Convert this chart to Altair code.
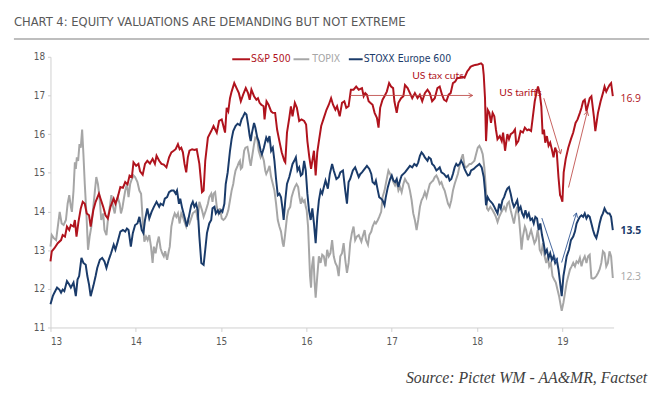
import altair as alt
import pandas as pd

# ---------------- data (decimal year, P/E) ----------------
SP500 = [
    (13.000, 12.71), (13.015, 12.97), (13.046, 13.05), (13.085, 13.18), (13.124, 13.26), (13.143, 13.39),
    (13.170, 13.35), (13.193, 13.61), (13.220, 13.52), (13.239, 13.65), (13.270, 13.61), (13.286, 13.78),
    (13.305, 13.35), (13.328, 13.73), (13.355, 14.08), (13.378, 14.25), (13.402, 14.20), (13.425, 13.95),
    (13.452, 13.90), (13.471, 13.61), (13.502, 14.03), (13.529, 14.25), (13.568, 14.46), (13.587, 14.33),
    (13.618, 14.12), (13.645, 13.90), (13.672, 13.82), (13.703, 14.12), (13.741, 14.33), (13.761, 14.20),
    (13.788, 14.37), (13.819, 14.63), (13.849, 14.61), (13.876, 14.76), (13.903, 14.70), (13.927, 14.93),
    (13.954, 14.89), (13.973, 15.27), (14.004, 15.18), (14.031, 15.23), (14.050, 15.04), (14.081, 14.95),
    (14.108, 15.23), (14.135, 15.31), (14.166, 15.24), (14.197, 15.36), (14.224, 15.23), (14.243, 15.44),
    (14.274, 15.31), (14.301, 15.23), (14.328, 15.21), (14.359, 15.14), (14.390, 15.40), (14.417, 15.53),
    (14.444, 15.57), (14.467, 15.61), (14.494, 15.74), (14.514, 15.61), (14.533, 15.65), (14.552, 15.53),
    (14.571, 15.23), (14.591, 15.01), (14.610, 15.40), (14.629, 15.57), (14.660, 15.61), (14.687, 15.59),
    (14.714, 15.61), (14.745, 15.23), (14.776, 14.50), (14.795, 14.54), (14.814, 15.31), (14.845, 15.91),
    (14.884, 16.08), (14.911, 16.21), (14.949, 16.04), (14.976, 16.34), (15.007, 16.38), (15.046, 16.04),
    (15.065, 16.68), (15.084, 16.59), (15.104, 16.93), (15.123, 17.10), (15.154, 17.32), (15.181, 17.19),
    (15.208, 17.06), (15.231, 16.85), (15.258, 17.02), (15.289, 17.19), (15.316, 17.06), (15.335, 16.89),
    (15.355, 17.15), (15.386, 16.98), (15.413, 16.89), (15.432, 16.93), (15.451, 16.81), (15.471, 16.76),
    (15.498, 16.72), (15.509, 16.38), (15.532, 16.85), (15.556, 16.76), (15.586, 16.59), (15.606, 16.55),
    (15.633, 16.55), (15.656, 16.12), (15.683, 15.82), (15.710, 15.53), (15.741, 15.31), (15.752, 15.27),
    (15.772, 16.04), (15.799, 16.42), (15.818, 16.72), (15.837, 16.46), (15.864, 16.81), (15.888, 16.68),
    (15.915, 16.34), (15.942, 16.38), (15.973, 16.34), (15.996, 16.25), (16.011, 15.82), (16.034, 15.40),
    (16.054, 15.10), (16.069, 15.31), (16.088, 15.57), (16.108, 14.93), (16.127, 15.53), (16.146, 15.82),
    (16.173, 16.21), (16.204, 16.42), (16.235, 16.63), (16.262, 16.76), (16.289, 16.93), (16.312, 16.76),
    (16.339, 16.63), (16.359, 16.72), (16.390, 16.46), (16.417, 16.81), (16.444, 16.85), (16.467, 16.68),
    (16.494, 16.72), (16.521, 17.15), (16.552, 17.15), (16.583, 17.23), (16.613, 17.15), (16.651, 17.19),
    (16.671, 16.98), (16.690, 17.06), (16.709, 17.02), (16.729, 16.85), (16.748, 16.81), (16.775, 16.76),
    (16.799, 16.55), (16.826, 16.42), (16.845, 16.17), (16.864, 16.68), (16.892, 16.89), (16.915, 16.98),
    (16.942, 17.10), (16.969, 17.32), (16.992, 17.23), (17.016, 17.19), (17.031, 16.85), (17.058, 16.55),
    (17.078, 16.81), (17.109, 16.93), (17.136, 16.98), (17.155, 17.27), (17.186, 17.19), (17.213, 17.06),
    (17.240, 16.93), (17.271, 17.06), (17.302, 16.93), (17.329, 17.02), (17.357, 16.85), (17.388, 17.06),
    (17.419, 17.15), (17.446, 17.06), (17.473, 16.85), (17.504, 16.93), (17.535, 17.19), (17.562, 17.23),
    (17.589, 17.02), (17.612, 16.89), (17.640, 16.85), (17.667, 17.02), (17.690, 17.06), (17.717, 17.32),
    (17.744, 17.36), (17.767, 17.45), (17.795, 17.46), (17.822, 17.49), (17.853, 17.46), (17.884, 17.62),
    (17.899, 17.66), (17.923, 17.74), (17.950, 17.77), (17.977, 17.79), (18.008, 17.80), (18.047, 17.83),
    (18.066, 17.79), (18.078, 17.53), (18.093, 16.93), (18.105, 15.82), (18.124, 16.63), (18.144, 16.55),
    (18.163, 16.29), (18.182, 16.55), (18.202, 16.46), (18.221, 16.12), (18.239, 15.87), (18.266, 15.95),
    (18.289, 15.82), (18.305, 16.04), (18.328, 15.57), (18.355, 16.00), (18.374, 15.87), (18.394, 16.00),
    (18.421, 16.04), (18.444, 16.12), (18.459, 15.74), (18.483, 15.82), (18.510, 16.08), (18.537, 16.04),
    (18.560, 16.17), (18.587, 16.10), (18.606, 16.12), (18.633, 16.08), (18.652, 16.42), (18.676, 16.85),
    (18.699, 17.10), (18.714, 17.23), (18.734, 17.06), (18.753, 16.72), (18.768, 16.00), (18.784, 16.12),
    (18.799, 15.78), (18.818, 15.95), (18.838, 15.70), (18.857, 15.78), (18.876, 15.61), (18.896, 15.40),
    (18.915, 15.65), (18.934, 15.53), (18.954, 14.89), (18.973, 14.42), (18.984, 14.37), (19.000, 14.25),
    (19.015, 15.01), (19.039, 15.36), (19.069, 15.65), (19.100, 15.87), (19.127, 16.04), (19.154, 16.29),
    (19.178, 16.38), (19.205, 16.55), (19.224, 16.68), (19.243, 16.85), (19.262, 16.89), (19.282, 16.59),
    (19.301, 16.76), (19.320, 16.93), (19.340, 16.98), (19.371, 16.42), (19.386, 16.08), (19.417, 16.55),
    (19.448, 16.85), (19.475, 17.06), (19.494, 17.23), (19.514, 17.10), (19.533, 17.19), (19.552, 17.27),
    (19.571, 17.32), (19.591, 16.98),
]

STOXX600 = [
    (13.000, 11.60), (13.027, 11.81), (13.046, 11.90), (13.077, 12.03), (13.104, 11.98), (13.124, 11.90),
    (13.143, 11.98), (13.162, 11.94), (13.193, 12.20), (13.220, 12.11), (13.239, 12.03), (13.270, 12.16),
    (13.297, 11.81), (13.317, 12.24), (13.336, 12.33), (13.363, 12.80), (13.386, 12.67), (13.413, 12.62),
    (13.432, 12.33), (13.452, 12.11), (13.471, 11.81), (13.502, 12.07), (13.529, 12.33), (13.548, 12.54),
    (13.579, 12.75), (13.606, 12.80), (13.633, 12.71), (13.656, 12.54), (13.683, 12.75), (13.710, 12.92),
    (13.741, 13.14), (13.761, 13.01), (13.788, 13.22), (13.819, 13.48), (13.849, 13.52), (13.876, 13.48),
    (13.896, 13.56), (13.915, 13.52), (13.942, 13.09), (13.965, 13.44), (13.992, 13.65), (14.019, 13.69),
    (14.042, 13.86), (14.069, 13.52), (14.089, 13.44), (14.108, 13.78), (14.135, 14.08), (14.158, 13.82),
    (14.185, 13.99), (14.212, 14.12), (14.243, 14.25), (14.274, 14.12), (14.290, 14.20), (14.320, 14.16),
    (14.340, 14.33), (14.367, 14.37), (14.390, 14.50), (14.417, 14.54), (14.444, 14.54), (14.467, 14.46),
    (14.483, 14.54), (14.506, 14.20), (14.521, 14.33), (14.544, 14.08), (14.571, 13.86), (14.598, 13.61),
    (14.622, 13.86), (14.649, 14.16), (14.668, 14.25), (14.687, 14.12), (14.707, 14.20), (14.726, 14.03),
    (14.745, 13.35), (14.768, 12.67), (14.795, 12.62), (14.814, 13.01), (14.834, 13.44), (14.861, 13.69),
    (14.884, 13.78), (14.899, 14.08), (14.922, 14.12), (14.938, 13.95), (14.961, 14.03), (14.976, 13.95),
    (15.000, 14.03), (15.015, 13.99), (15.038, 14.20), (15.054, 14.71), (15.077, 15.01), (15.104, 15.57),
    (15.123, 15.87), (15.142, 16.08), (15.169, 16.21), (15.193, 16.27), (15.220, 16.23), (15.239, 16.38),
    (15.258, 16.46), (15.278, 16.55), (15.297, 16.51), (15.316, 16.25), (15.335, 15.95), (15.347, 15.82),
    (15.362, 16.04), (15.386, 16.29), (15.401, 16.17), (15.424, 15.91), (15.440, 15.82), (15.463, 15.57),
    (15.478, 15.48), (15.501, 15.65), (15.529, 15.91), (15.548, 15.82), (15.567, 15.95), (15.586, 15.57),
    (15.606, 15.65), (15.625, 15.31), (15.644, 14.84), (15.664, 14.42), (15.683, 14.46), (15.702, 14.37),
    (15.722, 14.03), (15.733, 13.78), (15.752, 14.29), (15.772, 14.71), (15.799, 14.89), (15.818, 15.06),
    (15.837, 15.23), (15.857, 15.31), (15.876, 15.40), (15.895, 15.06), (15.915, 15.14), (15.934, 14.93),
    (15.953, 14.97), (15.973, 15.31), (15.992, 15.06), (16.011, 14.46), (16.030, 14.03), (16.050, 13.78),
    (16.069, 14.08), (16.088, 13.69), (16.108, 13.18), (16.127, 13.86), (16.146, 14.29), (16.166, 14.54),
    (16.185, 14.46), (16.204, 14.63), (16.224, 14.80), (16.251, 14.59), (16.274, 14.97), (16.301, 15.23),
    (16.320, 15.06), (16.351, 14.84), (16.378, 14.89), (16.397, 15.01), (16.428, 15.06), (16.455, 14.54),
    (16.475, 14.20), (16.494, 14.76), (16.513, 14.84), (16.544, 15.06), (16.571, 15.14), (16.613, 14.89),
    (16.632, 14.97), (16.651, 15.01), (16.682, 15.10), (16.709, 15.18), (16.737, 15.10), (16.760, 14.97),
    (16.775, 14.76), (16.799, 14.71), (16.814, 14.80), (16.837, 14.54), (16.853, 14.37), (16.876, 14.33),
    (16.892, 14.29), (16.915, 14.16), (16.930, 14.37), (16.954, 14.63), (16.981, 14.84), (17.000, 14.93),
    (17.019, 14.80), (17.039, 14.76), (17.058, 14.84), (17.078, 14.63), (17.097, 14.80), (17.116, 14.93),
    (17.155, 15.01), (17.186, 15.10), (17.213, 15.18), (17.240, 15.14), (17.264, 15.23), (17.291, 15.18),
    (17.310, 15.27), (17.330, 15.44), (17.349, 15.53), (17.368, 15.48), (17.388, 15.40), (17.419, 15.31),
    (17.434, 15.40), (17.457, 15.36), (17.473, 15.23), (17.496, 15.18), (17.523, 15.06), (17.543, 15.10),
    (17.562, 15.14), (17.582, 15.01), (17.612, 14.97), (17.640, 14.89), (17.659, 14.93), (17.678, 14.80),
    (17.698, 14.84), (17.717, 14.97), (17.737, 15.14), (17.756, 15.23), (17.775, 15.18), (17.795, 15.23),
    (17.814, 15.31), (17.833, 15.23), (17.853, 15.10), (17.872, 15.01), (17.892, 14.93), (17.911, 14.95),
    (17.930, 15.06), (17.961, 15.10), (17.988, 15.16), (18.027, 15.23), (18.054, 15.14), (18.078, 14.89),
    (18.093, 14.54), (18.105, 14.16), (18.124, 14.37), (18.144, 14.29), (18.163, 14.25), (18.182, 14.20),
    (18.202, 14.12), (18.221, 14.03), (18.240, 13.95), (18.259, 14.20), (18.278, 14.08), (18.297, 14.29),
    (18.317, 14.37), (18.336, 14.50), (18.355, 14.59), (18.374, 14.63), (18.394, 14.46), (18.413, 14.25),
    (18.432, 14.12), (18.452, 14.20), (18.471, 14.29), (18.490, 14.03), (18.510, 14.12), (18.529, 13.95),
    (18.548, 13.86), (18.567, 14.03), (18.587, 13.86), (18.606, 13.95), (18.625, 13.78), (18.645, 13.82),
    (18.664, 13.69), (18.683, 13.86), (18.703, 13.82), (18.722, 13.52), (18.741, 13.69), (18.761, 13.39),
    (18.780, 13.18), (18.799, 12.92), (18.818, 13.01), (18.838, 12.80), (18.857, 12.92), (18.876, 12.75),
    (18.896, 12.84), (18.915, 12.67), (18.934, 12.75), (18.954, 12.50), (18.973, 12.16), (18.992, 11.81),
    (19.012, 12.33), (19.031, 12.58), (19.050, 12.84), (19.077, 13.01), (19.100, 13.26), (19.127, 13.35),
    (19.147, 13.48), (19.166, 13.69), (19.185, 13.78), (19.205, 13.86), (19.224, 13.90), (19.243, 13.86),
    (19.262, 13.95), (19.282, 13.82), (19.301, 13.90), (19.320, 13.86), (19.340, 13.69), (19.359, 13.52),
    (19.378, 13.39), (19.398, 13.31), (19.417, 13.48), (19.436, 13.69), (19.456, 13.86), (19.475, 13.95),
    (19.494, 14.08), (19.514, 13.99), (19.533, 13.95), (19.552, 13.95), (19.571, 13.86), (19.591, 13.52),
]

TOPIX = [
    (13.000, 13.09), (13.015, 13.39), (13.039, 13.31), (13.066, 13.26), (13.093, 13.73), (13.108, 13.99),
    (13.131, 13.69), (13.154, 13.65), (13.181, 13.78), (13.201, 14.20), (13.220, 14.42), (13.239, 14.12),
    (13.251, 13.99), (13.270, 14.54), (13.286, 15.27), (13.297, 15.10), (13.309, 15.40), (13.324, 15.31),
    (13.340, 15.74), (13.355, 15.65), (13.371, 16.12), (13.386, 15.48), (13.402, 14.71), (13.421, 13.95),
    (13.440, 13.01), (13.459, 13.35), (13.479, 13.61), (13.502, 14.12), (13.521, 14.54), (13.537, 14.89),
    (13.556, 14.71), (13.575, 14.37), (13.595, 13.78), (13.618, 13.95), (13.633, 13.52), (13.656, 13.39),
    (13.676, 13.86), (13.695, 14.12), (13.714, 14.42), (13.734, 14.12), (13.753, 13.95), (13.772, 14.25),
    (13.788, 14.37), (13.811, 14.20), (13.826, 13.95), (13.842, 14.08), (13.857, 14.29), (13.876, 14.54),
    (13.896, 14.71), (13.915, 14.37), (13.934, 14.71), (13.954, 14.84), (13.973, 14.93), (13.992, 14.89),
    (14.019, 14.76), (14.042, 14.54), (14.062, 14.46), (14.081, 13.78), (14.100, 13.22), (14.120, 13.35),
    (14.139, 13.26), (14.158, 13.39), (14.178, 13.09), (14.197, 12.67), (14.212, 13.09), (14.232, 12.92),
    (14.251, 13.18), (14.270, 13.35), (14.290, 13.05), (14.309, 12.92), (14.328, 12.84), (14.344, 12.97),
    (14.367, 12.75), (14.386, 12.97), (14.398, 13.09), (14.417, 13.61), (14.436, 13.82), (14.456, 13.95),
    (14.475, 13.86), (14.494, 13.95), (14.514, 13.69), (14.533, 13.95), (14.552, 13.86), (14.571, 13.73),
    (14.591, 13.61), (14.610, 13.78), (14.629, 13.69), (14.649, 13.82), (14.668, 13.95), (14.687, 13.99),
    (14.707, 14.03), (14.726, 13.78), (14.745, 14.25), (14.776, 14.03), (14.795, 13.86), (14.822, 14.03),
    (14.845, 14.20), (14.861, 14.37), (14.884, 14.46), (14.899, 14.25), (14.911, 14.46), (14.930, 14.50),
    (14.949, 14.12), (14.969, 13.95), (14.988, 14.08), (15.007, 13.82), (15.027, 13.78), (15.046, 13.82),
    (15.065, 13.90), (15.084, 14.03), (15.104, 14.29), (15.123, 14.54), (15.142, 14.71), (15.154, 14.89),
    (15.169, 15.06), (15.193, 15.18), (15.208, 15.27), (15.220, 15.31), (15.231, 15.10), (15.247, 15.14),
    (15.270, 15.57), (15.285, 15.65), (15.308, 15.67), (15.324, 15.48), (15.335, 15.31), (15.347, 15.18),
    (15.362, 15.40), (15.386, 15.74), (15.401, 15.91), (15.424, 15.87), (15.440, 15.57), (15.463, 15.40),
    (15.478, 15.48), (15.501, 15.31), (15.517, 15.06), (15.529, 14.97), (15.548, 15.06), (15.567, 15.18),
    (15.586, 14.89), (15.606, 14.71), (15.625, 14.54), (15.644, 14.20), (15.664, 13.78), (15.683, 13.61),
    (15.702, 13.48), (15.722, 13.18), (15.733, 13.09), (15.749, 13.39), (15.772, 13.86), (15.787, 14.03),
    (15.810, 14.12), (15.826, 14.37), (15.849, 14.54), (15.864, 14.63), (15.884, 14.71), (15.903, 14.63),
    (15.918, 14.37), (15.934, 14.20), (15.949, 14.33), (15.965, 14.25), (15.980, 14.29), (15.992, 14.12),
    (16.003, 14.03), (16.019, 13.61), (16.030, 13.01), (16.042, 12.33), (16.054, 12.03), (16.065, 12.58),
    (16.081, 12.84), (16.096, 12.16), (16.108, 11.77), (16.127, 12.33), (16.146, 12.84), (16.166, 12.67),
    (16.185, 12.88), (16.204, 12.84), (16.224, 12.58), (16.243, 13.01), (16.262, 12.84), (16.281, 12.92),
    (16.301, 13.26), (16.320, 12.84), (16.339, 12.67), (16.359, 12.58), (16.378, 12.33), (16.397, 12.84),
    (16.417, 12.92), (16.436, 13.18), (16.455, 12.75), (16.475, 12.41), (16.494, 12.67), (16.513, 13.18),
    (16.532, 13.44), (16.552, 13.61), (16.571, 13.26), (16.590, 13.35), (16.613, 13.39), (16.644, 13.22),
    (16.659, 13.35), (16.682, 13.52), (16.698, 13.26), (16.721, 13.14), (16.737, 13.39), (16.760, 13.48),
    (16.775, 13.61), (16.799, 13.73), (16.814, 13.69), (16.837, 13.78), (16.853, 13.86), (16.876, 13.99),
    (16.892, 14.37), (16.915, 14.54), (16.930, 14.71), (16.946, 14.89), (16.961, 15.06), (16.981, 14.97),
    (17.000, 14.89), (17.019, 14.76), (17.039, 14.67), (17.058, 14.76), (17.078, 14.54), (17.097, 14.63),
    (17.116, 14.50), (17.136, 14.71), (17.155, 14.84), (17.175, 14.76), (17.194, 14.71), (17.213, 14.54),
    (17.233, 14.29), (17.252, 13.95), (17.271, 13.78), (17.291, 13.52), (17.310, 13.78), (17.330, 14.12),
    (17.349, 14.29), (17.368, 14.37), (17.388, 14.50), (17.407, 14.37), (17.426, 14.54), (17.446, 14.71),
    (17.465, 14.76), (17.485, 14.80), (17.504, 14.89), (17.523, 14.93), (17.543, 14.84), (17.562, 14.71),
    (17.582, 14.76), (17.601, 14.63), (17.620, 14.54), (17.640, 14.37), (17.659, 14.20), (17.678, 14.12),
    (17.698, 14.29), (17.717, 14.54), (17.737, 14.71), (17.756, 14.84), (17.775, 14.97), (17.795, 15.18),
    (17.814, 15.36), (17.833, 15.48), (17.853, 15.18), (17.872, 15.14), (17.892, 15.18), (17.911, 15.23),
    (17.930, 15.23), (17.950, 15.27), (17.969, 15.31), (17.988, 15.48), (18.008, 15.65), (18.027, 15.70),
    (18.047, 15.61), (18.066, 15.48), (18.085, 15.14), (18.105, 14.54), (18.116, 14.08), (18.132, 14.03),
    (18.155, 14.12), (18.182, 14.03), (18.202, 13.95), (18.221, 13.86), (18.240, 13.73), (18.259, 13.86),
    (18.278, 13.95), (18.297, 14.03), (18.317, 14.12), (18.336, 14.03), (18.355, 14.20), (18.374, 14.25),
    (18.394, 14.03), (18.413, 13.86), (18.432, 13.69), (18.452, 13.95), (18.471, 14.12), (18.490, 13.86),
    (18.510, 13.35), (18.521, 13.01), (18.537, 13.35), (18.560, 13.61), (18.575, 13.52), (18.595, 13.26),
    (18.614, 13.39), (18.633, 13.52), (18.652, 13.35), (18.672, 13.18), (18.691, 13.26), (18.710, 13.52),
    (18.722, 13.35), (18.734, 13.01), (18.753, 12.92), (18.772, 13.18), (18.791, 12.84), (18.811, 12.67),
    (18.830, 12.84), (18.845, 12.58), (18.865, 12.67), (18.884, 12.33), (18.903, 12.24), (18.923, 12.16),
    (18.942, 11.98), (18.961, 11.81), (18.981, 11.56), (18.992, 11.43), (19.012, 11.64), (19.031, 11.90),
    (19.050, 12.16), (19.069, 12.33), (19.089, 12.50), (19.108, 12.58), (19.127, 12.67), (19.147, 12.58),
    (19.166, 12.71), (19.185, 12.67), (19.205, 12.80), (19.224, 12.58), (19.243, 12.75), (19.262, 12.84),
    (19.282, 12.67), (19.301, 12.84), (19.320, 12.88), (19.340, 12.28), (19.359, 12.26), (19.378, 12.28),
    (19.398, 12.33), (19.417, 12.41), (19.436, 12.50), (19.456, 12.67), (19.475, 12.97), (19.494, 12.92),
    (19.514, 12.58), (19.533, 12.67), (19.552, 12.97), (19.571, 12.84), (19.591, 12.28),
]

SERIES_NAMES = ["S&P 500", "TOPIX", "STOXX Europe 600"]
SERIES_COLORS = ["#b0131d", "#a6a6a6", "#1a3b6a"]

END_LABELS = ["16.9", "12.3", "13.5"]
END_VALUES = [16.9, 12.3, 13.5]
END_COLORS = ["#b0131d", "#a6a6a6", "#1a3b6a"]
END_BOLD = [False, False, True]

X_TICKS = [13, 14, 15, 16, 17, 18, 19]
Y_TICKS = [11, 12, 13, 14, 15, 16, 17, 18]

TITLE = "CHART 4: EQUITY VALUATIONS ARE DEMANDING BUT NOT EXTREME"
SOURCE = "Source: Pictet WM - AA&MR, Factset"

ANNOT_TEXT = ["US tax cuts", "US tariffs"]
ANNOT_X = [17.24, 18.26]
ANNOT_Y = [17.51, 17.05]

ARROW_X1 = [16.51, 18.782, 19.072, 18.759, 18.991]
ARROW_Y1 = [17.00, 16.93, 14.62, 13.83, 12.68]
ARROW_X2 = [17.948, 18.979, 19.292, 18.933, 19.165]
ARROW_Y2 = [17.00, 15.49, 16.59, 12.68, 13.96]
ARROW_COLORS = ["#c0504d", "#c0504d", "#c0504d", "#2e5593", "#2e5593"]
ARROW_ANGLES = [90, 163, 14, 162, 17]

# ---------------- styling ----------------
NARROW = "DejaVu Sans Condensed, Liberation Sans Narrow, Roboto, sans-serif"
AX_COL = "#595959"
W, H = 570, 274

xscale = alt.Scale(domain=[13, 19.6], nice=False, zero=False)
yscale = alt.Scale(domain=[11, 18], nice=False, zero=False)
xaxis = alt.Axis(values=X_TICKS, format="d", title=None, grid=False, domainColor="#d0d0d0",
                 tickColor="#d0d0d0", tickSize=4, labelFont=NARROW, labelFontSize=10,
                 labelColor=AX_COL, labelPadding=5)
yaxis = alt.Axis(values=Y_TICKS, format="d", title=None, grid=False, domainColor="#d0d0d0",
                 tickColor="#d0d0d0", tickSize=3, labelFont=NARROW, labelFontSize=10,
                 labelColor=AX_COL, labelPadding=3)


def X(field):
    return alt.X(field, type="quantitative", scale=xscale, axis=xaxis)


def Y(field):
    return alt.Y(field, type="quantitative", scale=yscale, axis=yaxis)


def series_layer(pairs, color):
    df = pd.DataFrame(pairs, columns=["t", "v"])
    return alt.Chart(df).mark_line(color=color, strokeWidth=2, clip=False).encode(
        x=X("t"), y=Y("v"), order="t:Q")


lines = [series_layer(TOPIX, SERIES_COLORS[1]),
         series_layer(STOXX600, SERIES_COLORS[2]),
         series_layer(SP500, SERIES_COLORS[0])]

arrow_df = pd.DataFrame({"x1": ARROW_X1, "y1": ARROW_Y1, "x2": ARROW_X2, "y2": ARROW_Y2,
                         "col": ARROW_COLORS, "ang": ARROW_ANGLES})
arrows = alt.Chart(arrow_df).mark_rule(strokeWidth=0.9).encode(
    x=X("x1"), y=Y("y1"), x2="x2", y2="y2", color=alt.Color("col:N", scale=None))
heads = alt.Chart(arrow_df).mark_point(shape="M-0.55,1L0,0L0.55,1", filled=False, size=70,
                                       strokeWidth=0.9, opacity=1).encode(
    x=X("x2"), y=Y("y2"), color=alt.Color("col:N", scale=None), angle=alt.Angle("ang:Q", scale=None))

annot_df = pd.DataFrame({"x": ANNOT_X, "y": ANNOT_Y, "label": ANNOT_TEXT})
annots = alt.Chart(annot_df).mark_text(align="left", baseline="middle", font="Lato", fontSize=10.5,
                                       color="#b0131d").encode(x=X("x"), y=Y("y"), text="label:N")

end_df = pd.DataFrame({"v": END_VALUES, "label": END_LABELS, "col": END_COLORS, "bold": END_BOLD})


def end_layer(bold):
    return alt.Chart(end_df[end_df["bold"] == bold]).mark_text(
        align="left", baseline="middle", font="Open Sans", fontSize=10.5,
        fontWeight="bold" if bold else "normal").encode(
        x=alt.value(577), y=Y("v"), text="label:N", color=alt.Color("col:N", scale=None))


end_labels = [end_layer(False), end_layer(True)]

# custom legend (pixel layout relative to plot origin)
leg_df = pd.DataFrame({"name": SERIES_NAMES, "col": SERIES_COLORS,
                       "lx1": [184, 246, 302], "lx2": [202, 262, 316], "tx": [203, 265, 317]})
leg_lines = alt.Chart(leg_df).mark_rule(strokeWidth=2).encode(
    x=alt.X("lx1:Q", scale=None), x2="lx2:Q", y=alt.value(2.5), color=alt.Color("col:N", scale=None))
leg_text = alt.Chart(leg_df).mark_text(align="left", baseline="middle", font=NARROW, fontSize=10.5).encode(
    x=alt.X("tx:Q", scale=None), y=alt.value(2.5), text="name:N", color=alt.Color("col:N", scale=None))

title = alt.Chart(pd.DataFrame({"label": [TITLE]})).mark_text(
    align="left", baseline="middle", font=NARROW, fontSize=13, color="#595959").encode(
    x=alt.value(-37), y=alt.value(-35), text="label:N")
title_rule = alt.Chart(pd.DataFrame({"label": [TITLE]})).mark_rule(color="#7f7f7f", strokeWidth=1.2).encode(
    x=alt.value(-37), x2=alt.value(606), y=alt.value(-18))
source = alt.Chart(pd.DataFrame({"label": [SOURCE]})).mark_text(
    align="right", baseline="middle", font="Liberation Serif", fontStyle="italic", fontSize=16,
    color="#404040").encode(x=alt.value(604), y=alt.value(325), text="label:N")

chart = alt.layer(*lines, arrows, heads, annots, *end_labels, leg_lines, leg_text, title, title_rule, source).properties(
    width=W, height=H,
    autosize=alt.AutoSizeParams(type="none"),
    padding={"left": 43, "top": 47, "right": 49, "bottom": 70},
    background="white",
).configure_view(stroke=None)

chart.save("out.html", embed_options={"renderer": "svg", "actions": False})
